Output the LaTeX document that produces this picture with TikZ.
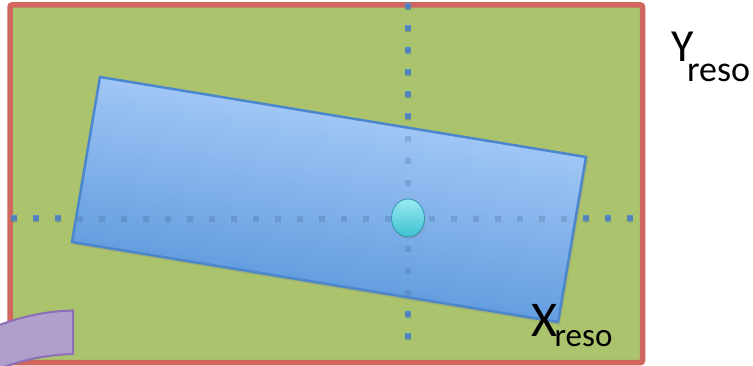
\documentclass[tikz,border=0pt]{standalone}
\usepackage{fontspec}
\setmainfont{Carlito}
\usetikzlibrary{shadows}
\definecolor{bggreen}{RGB}{170,195,108}
\definecolor{framered}{RGB}{208,102,94}
\definecolor{bluetop}{RGB}{180,212,253}
\definecolor{bluebot}{RGB}{80,144,216}
\definecolor{blueedge}{RGB}{76,134,205}
\definecolor{dotblue}{RGB}{90,143,208}
\definecolor{cyantop}{RGB}{150,235,242}
\definecolor{cyanbot}{RGB}{62,192,208}
\definecolor{cyanedge}{RGB}{52,150,172}
\definecolor{purplefill}{RGB}{176,158,203}
\definecolor{purpleedge}{RGB}{140,110,185}
\begin{document}
\begin{tikzpicture}[x=1pt,y=-1pt,
  dotsq/.style={fill=dotblue, minimum size=5.5pt, inner sep=0pt, draw=none,
    drop shadow={shadow xshift=0.5pt, shadow yshift=-2pt, opacity=0.2}},
  ghostdot/.style={fill=dotblue!60!black, minimum size=5.5pt, inner sep=0pt, draw=none, fill opacity=0.22},
  framebox/.style={draw=framered, line width=5.5pt, fill=bggreen, rounded corners=2pt},
  plate/.style={draw=blueedge, line width=2.5pt, top color=bluetop, bottom color=bluebot,
    shading angle=-9.35, line join=miter,
    drop shadow={shadow xshift=2pt, shadow yshift=-3pt, opacity=0.25}},
  ball/.style={draw=cyanedge, line width=0.8pt, top color=cyantop, bottom color=cyanbot,
    drop shadow={shadow xshift=1pt, shadow yshift=-2pt, opacity=0.3}},
  arcpiece/.style={draw=purpleedge, line width=2pt, fill=purplefill},
  lab/.style={anchor=base west, inner sep=0pt, text=black}]
\useasboundingbox (0,0) rectangle (753,366);
\clip (0,0) rectangle (753,366);
% frame
\path[framebox] (10,5) rectangle (642.5,362.5);
% dotted axes
\foreach \i in {0,...,28} \node[dotsq] (h\i) at (14+22*\i,218) {};
\foreach \j in {0,...,15} \node[dotsq] (v\j) at (408,6+22*\j) {};
% rotated plate
\path[plate] (100,77) -- (586,157) -- (558,322) -- (72,242) -- cycle;
% axes seen through the plate
\foreach \i in {0,...,28} \node[ghostdot] (gh\i) at (14+22*\i,219) {};
\foreach \j in {0,...,15} \node[ghostdot] (gv\j) at (408,7+22*\j) {};
% centre ball
\path[ball] (408,218) ellipse [x radius=16.5, y radius=19];
% purple arc piece
\path[arcpiece] (-6,327) .. controls (25,315) and (50,311) .. (73,310.5) -- (73,354)
  .. controls (45,355) and (20,360) .. (-6,371) -- cycle;
% labels
\node[lab, font=\fontsize{46}{46}\selectfont] (ylab) at (671.5,62)
  {Y\kern-7pt\raisebox{-20pt}{\fontsize{36}{36}\selectfont reso}};
\node[lab, font=\fontsize{50}{50}\selectfont] (xlab) at (531.5,337)
  {X\kern-3pt\raisebox{-10pt}{\fontsize{33}{33}\selectfont reso}};
\end{tikzpicture}
\end{document}
